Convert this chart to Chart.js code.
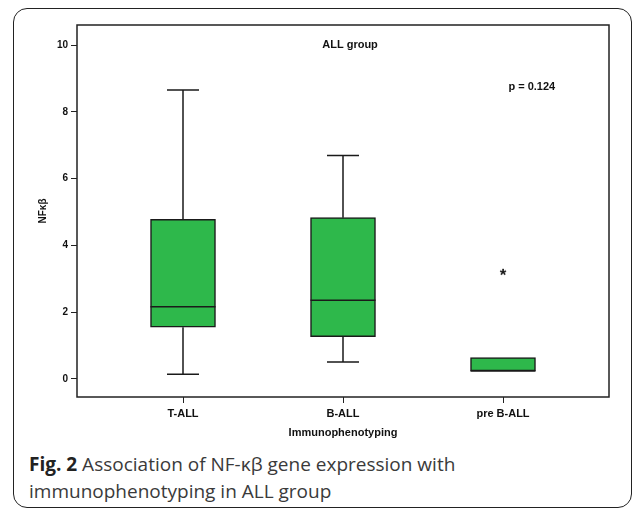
<!DOCTYPE html>
<html>
<head>
<meta charset="utf-8">
<script src="https://cdn.jsdelivr.net/npm/chart.js@4/dist/chart.umd.min.js"></script>
<style>
  body { margin: 0; background: #fff; width: 634px; height: 513px; overflow: hidden; position: relative; }
  #frame { position: absolute; left: 13px; top: 8px; width: 619px; height: 500px; box-sizing: border-box;
           border: 1.5px solid #222; border-radius: 14px; }
  #wrap { position: absolute; left: 0; top: 0; width: 634px; height: 450px; }
  #caption { position: absolute; left: 29px; top: 451px; font-family: "Open Sans", sans-serif; font-size: 19px;
             line-height: 27px; color: #3a3a3a; white-space: nowrap; }
  #caption b { color: #222; }
</style>
</head>
<body>
<div id="frame"></div>
<div id="wrap"><canvas id="boxChart" width="634" height="450"></canvas></div>
<div id="caption"><b>Fig. 2</b> Association of NF-κβ gene expression with<br>immunophenotyping in ALL group</div>
<script>
//Chart data
const groups = ['T-ALL', 'B-ALL', 'pre B-ALL']; //categories
const groupPos = [0, 1, 2]; //position of each category on x axis
const whiskerLow = [0.14, 0.51, 0.24]; //lower whisker
const q1 = [1.55, 1.27, 0.24]; //first quartile
const median = [2.16, 2.36, 0.24]; //median
const q3 = [4.78, 4.83, 0.64]; //third quartile
const whiskerHigh = [8.65, 6.69, 0.64]; //upper whisker
const outlierX = [2]; //extreme value group
const outlierY = [3.18]; //extreme value
const yTicks = [0, 2, 4, 6, 8, 10]; //y tick labels
const noteText = ['ALL group', 'p = 0.124']; //text inside plot
const noteX = [1.044, 2.18];
const noteY = [10.0, 8.75];

const labelFont = { family: '"Liberation Sans", Arial, sans-serif', weight: 'bold', size: 11 };
const tickFont = { family: '"Liberation Sans", Arial, sans-serif', weight: 'bold', size: 10 };

//asterisk marker for the extreme value
const starImg = document.createElement('canvas');
starImg.width = 14;
starImg.height = 14;
const sctx = starImg.getContext('2d');
sctx.fillStyle = '#111';
sctx.font = 'bold 17px "Liberation Sans", Arial, sans-serif';
sctx.textAlign = 'center';
sctx.textBaseline = 'alphabetic';
sctx.fillText('*', 7, 15);

const boxPlugin = { //whiskers, medians, frame and notes
    id: 'boxParts',
    afterDatasetsDraw(chart) {
        const ctx = chart.ctx;
        const xs = chart.scales.x, ys = chart.scales.y;
        const capHalf = 16, boxHalf = 32.5;
        ctx.save();
        ctx.strokeStyle = '#1a1a1a';
        ctx.lineWidth = 1.5;
        groupPos.forEach((g, i) => {
            const cx = xs.getPixelForValue(g);
            ctx.beginPath();
            if (whiskerHigh[i] > q3[i]) { //upper whisker
                ctx.moveTo(cx, ys.getPixelForValue(q3[i]));
                ctx.lineTo(cx, ys.getPixelForValue(whiskerHigh[i]));
                ctx.moveTo(cx - capHalf, ys.getPixelForValue(whiskerHigh[i]));
                ctx.lineTo(cx + capHalf, ys.getPixelForValue(whiskerHigh[i]));
            }
            if (whiskerLow[i] < q1[i]) { //lower whisker
                ctx.moveTo(cx, ys.getPixelForValue(q1[i]));
                ctx.lineTo(cx, ys.getPixelForValue(whiskerLow[i]));
                ctx.moveTo(cx - capHalf, ys.getPixelForValue(whiskerLow[i]));
                ctx.lineTo(cx + capHalf, ys.getPixelForValue(whiskerLow[i]));
            }
            ctx.moveTo(cx - boxHalf, ys.getPixelForValue(median[i])); //median
            ctx.lineTo(cx + boxHalf, ys.getPixelForValue(median[i]));
            ctx.stroke();
        });
        const a = chart.chartArea; //frame
        ctx.strokeStyle = '#222';
        ctx.strokeRect(a.left, a.top, a.right - a.left, a.bottom - a.top);
        ctx.fillStyle = '#111';
        ctx.font = 'bold 11px "Liberation Sans", Arial, sans-serif';
        ctx.textAlign = 'center';
        ctx.textBaseline = 'middle';
        noteText.forEach((t, i) => {
            ctx.fillText(t, xs.getPixelForValue(noteX[i]), ys.getPixelForValue(noteY[i]));
        });
        ctx.restore();
    }
};

const ctx = document.getElementById('boxChart').getContext('2d');
new Chart(ctx, {
    type: 'bar',
    data: {
        datasets: [{
            data: groupPos.map((g, i) => ({ x: g, y: [q1[i], q3[i]] })),
            backgroundColor: '#2eb84b',
            borderColor: '#1a1a1a',
            borderWidth: 1.5,
            borderSkipped: false,
            barThickness: 65
        }, {
            type: 'scatter',
            data: outlierX.map((x, i) => ({ x: x, y: outlierY[i] })),
            pointStyle: starImg,
            radius: 7
        }]
    },
    options: {
        responsive: false,
        animation: false,
        layout: { padding: { left: 0, top: 25, right: 25, bottom: 0 } },
        plugins: { legend: { display: false }, tooltip: { enabled: false } },
        scales: {
            x: {
                type: 'linear',
                offset: false,
                min: -0.6625,
                max: 2.6625,
                afterBuildTicks: (s) => { s.ticks = groupPos.map(v => ({ value: v })); },
                afterFit: (s) => { s.height = 53; },
                ticks: { callback: (v) => groups[v], font: labelFont, color: '#111', padding: 4, maxRotation: 0 },
                grid: { offset: false, drawOnChartArea: false, tickLength: 6, color: '#222', lineWidth: 1 },
                border: { display: false },
                title: { display: true, text: 'Immunophenotyping', font: labelFont, color: '#111', padding: { top: 0, bottom: 10 } }
            },
            y: {
                min: -0.54,
                max: 10.6,
                afterBuildTicks: (s) => { s.ticks = yTicks.map(v => ({ value: v })); },
                afterFit: (s) => { s.width = 77; },
                ticks: { font: tickFont, color: '#111', padding: 3 },
                grid: { drawOnChartArea: false, tickLength: 6, color: '#222', lineWidth: 1 },
                border: { display: false },
                title: { display: true, text: 'NFκβ', font: tickFont, color: '#111', padding: { top: 37, bottom: 0 } }
            }
        }
    },
    plugins: [boxPlugin]
});
</script>
</body>
</html>
